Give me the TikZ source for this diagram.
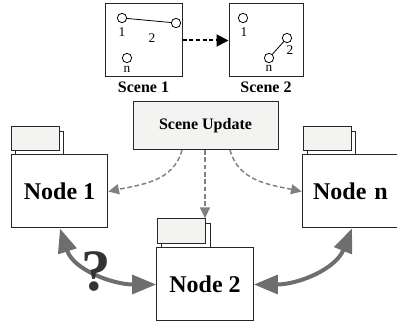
\documentclass[tikz,border=0pt]{standalone}
\usepackage{fontspec}
\setmainfont{Liberation Serif}
\usetikzlibrary{arrows.meta,calc}
\definecolor{boxfill}{HTML}{F3F4F2}
\definecolor{thickgray}{HTML}{6E6E6E}
\definecolor{dashgray}{HTML}{808080}
\definecolor{qgray}{HTML}{333333}
\begin{document}
\begin{tikzpicture}[x=0.75pt,y=-0.75pt,
  bx/.style={draw=black!85,line width=0.75pt,fill=white,inner sep=0pt},
  scenebox/.style={bx,minimum height=54.75pt},
  nodebox/.style={bx,minimum width=72.5pt,minimum height=54.75pt,font=\fontsize{18}{20}\selectfont\bfseries},
  tabfront/.style={bx,fill=boxfill,minimum width=36pt,minimum height=18.5pt},
  tabback/.style={bx,minimum width=36.5pt,minimum height=17.5pt},
  dot/.style={draw=black,line width=0.6pt,circle,minimum size=7pt,inner sep=0pt},
  lbl/.style={font=\fontsize{10}{11}\selectfont,inner sep=0pt},
  caption/.style={font=\fontsize{12}{14}\selectfont\bfseries,inner sep=0pt},
  gdash/.style={draw=dashgray,line width=1.1pt,dash pattern=on 3.5pt off 2pt,-{Triangle[length=8pt,width=7.5pt]}},
  thickarr/.style={draw=thickgray,line width=3pt,{Triangle[length=18pt,width=14pt]}-{Triangle[length=18pt,width=14pt]}}
]
\useasboundingbox (0,0) rectangle (397,324);

% Scenes
\node[scenebox,minimum width=57.75pt] (s1) at (143.5,40.5) {};
\node[scenebox,minimum width=55.5pt] (s2) at (266,40.5) {};
\node[caption] (s1c) at (143.5,87) {Scene 1};
\node[caption] (s2c) at (266,87) {Scene 2};

\node[dot] (a1) at (122,18) {};
\node[dot] (a2) at (176,23) {};
\node[dot] (an) at (127,58) {};
\draw[line width=0.6pt] (a1) -- (a2);
\node[lbl] (a1l) at (122,32) {1};
\node[lbl] (a2l) at (152,38) {2};
\node[lbl] (anl) at (127,69) {n};

\node[dot] (b1) at (243,18) {};
\node[dot] (b2) at (287,38) {};
\node[dot] (bn) at (269,58) {};
\draw[line width=0.6pt] (bn) -- (b2);
\node[lbl] (b1l) at (244,32) {1};
\node[lbl] (b2l) at (290,50) {2};
\node[lbl] (bnl) at (269,68) {n};

\draw[black,line width=1.5pt,dash pattern=on 3pt off 2pt,-{Triangle[length=9pt,width=9pt]}] (s1.east) -- (s2.west);

% Scene Update
\node[bx,fill=boxfill,minimum width=108.75pt,minimum height=36pt,font=\fontsize{12}{14}\selectfont\bfseries] (su) at (205.5,126) {Scene Update};

% Node 1
\node[tabback] (t1b) at (39.5,143.5) {};
\node[tabfront] (t1f) at (35,138.5) {};
\node[nodebox] (n1) at (59.5,191.5) {Node 1};

% Node 2
\node[tabback] (t2b) at (186,235.5) {};
\node[tabfront] (t2f) at (181,231) {};
\node[nodebox] (n2) at (205,284.5) {Node 2};

% Node n
\node[tabback] (t3b) at (331.5,143.5) {};
\node[tabfront] (t3f) at (327,138.5) {};
\node[nodebox,minimum width=72.5pt,text width=72.5pt,align=center] (n3) at (350.5,191.5) {Node n};

% dashed update arrows
\coordinate (d1) at (182,150);
\coordinate (d2) at (205,150);
\coordinate (d3) at (230,150);
\draw[gdash] (d1) to[out=-105,in=12] (n1.east);
\draw[gdash] (d2) -- (t2f.north -| d2);
\draw[gdash] (d3) to[out=-75,in=168] (n3.west);

% thick double arrows
\coordinate (e1) at (60,228.5);
\coordinate (e3) at (352,228.5);
\draw[thickarr] (e1) to[out=-72,in=180] (n2.west);
\draw[thickarr] (n2.east) to[out=0,in=-112] (e3);

\node[font=\fontsize{44}{46}\selectfont\bfseries,text=qgray,inner sep=0pt] (q) at (96,271) {?};
\end{tikzpicture}
\end{document}
